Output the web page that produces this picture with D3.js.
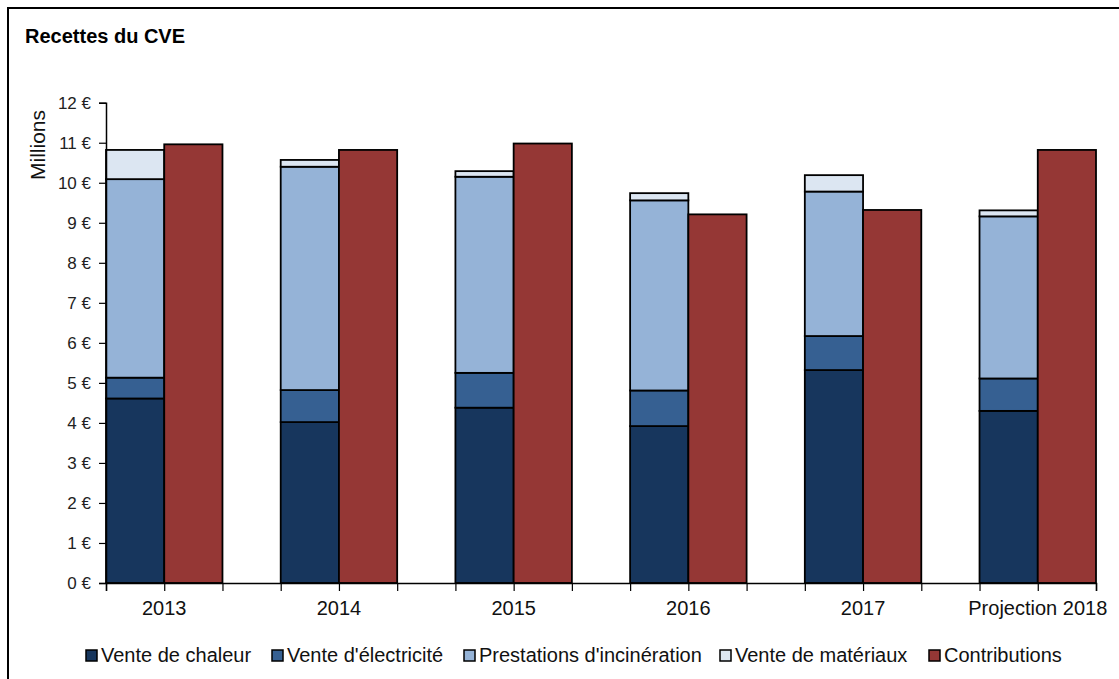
<!DOCTYPE html>
<html>
<head>
<meta charset="utf-8">
<script src="https://cdn.jsdelivr.net/npm/d3@7"></script>
<style>
  body { margin: 0; background: #fff; }
  svg { display: block; font-family: "Liberation Sans", Arial, sans-serif; }
</style>
</head>
<body>
<svg id="chart" width="1119" height="679"></svg>
<script>
// data (millions of euros)
const years = ["2013", "2014", "2015", "2016", "2017", "Projection 2018"];
const stackNames = ["Vente de chaleur", "Vente d'électricité", "Prestations d'incinération", "Vente de matériaux"];
const chaleur = [4.61, 4.02, 4.38, 3.92, 5.32, 4.30];
const electricite = [0.52, 0.80, 0.87, 0.89, 0.85, 0.81];
const prestations = [4.96, 5.58, 4.90, 4.75, 3.61, 4.05];
const materiaux = [0.73, 0.17, 0.14, 0.18, 0.41, 0.15];
const contributions = [10.96, 10.82, 10.98, 9.21, 9.32, 10.82];
const yTicks = [0, 1, 2, 3, 4, 5, 6, 7, 8, 9, 10, 11, 12];

const stackColors = ["#17365d", "#366092", "#95b3d7", "#dce6f2"];
const contribColor = "#953735";

const svg = d3.select("#chart");

// frame
svg.append("rect")
  .attr("x", 8).attr("y", 8)
  .attr("width", 1200).attr("height", 800)
  .style("fill", "none")
  .style("stroke", "#000")
  .style("stroke-width", 2);

svg.append("text")
  .attr("x", 25).attr("y", 43)
  .style("font-size", "20px")
  .style("font-weight", "bold")
  .text("Recettes du CVE");

// 17 slots: stacked, contributions, gap ... for each year
const nSlots = years.length * 3 - 1;
const x = d3.scaleLinear().domain([0, nSlots]).range([106, 1096]);
const y = d3.scaleLinear().domain([0, 12]).range([583, 102.7]);

const rows = years.map((yr, i) => ({
  year: yr,
  [stackNames[0]]: chaleur[i],
  [stackNames[1]]: electricite[i],
  [stackNames[2]]: prestations[i],
  [stackNames[3]]: materiaux[i],
  contrib: contributions[i]
}));

const series = d3.stack().keys(stackNames)(rows);

const plot = svg.append("g");

series.forEach((s, k) => {
  plot.selectAll(null)
    .data(s)
    .enter()
    .append("rect")
    .attr("x", (d, i) => x(i * 3))
    .attr("width", x(1) - x(0))
    .attr("y", d => y(d[1]))
    .attr("height", d => y(d[0]) - y(d[1]))
    .style("fill", stackColors[k])
    .style("stroke", "#000")
    .style("stroke-width", 1.8);
});

plot.selectAll(null)
  .data(rows)
  .enter()
  .append("rect")
  .attr("x", (d, i) => x(i * 3 + 1))
  .attr("width", x(1) - x(0))
  .attr("y", d => y(d.contrib))
  .attr("height", d => y(0) - y(d.contrib))
  .style("fill", contribColor)
  .style("stroke", "#000")
  .style("stroke-width", 1.8);

// y axis
const yAxis = svg.append("g")
  .attr("transform", `translate(${x(0)},0)`)
  .call(d3.axisLeft(y).tickValues(yTicks).tickSize(7).tickPadding(8).tickFormat(d => `${d} €`));
yAxis.select(".domain").attr("stroke", "#000").attr("stroke-width", 1.5);
yAxis.selectAll(".tick line").attr("stroke", "#000").attr("stroke-width", 1.2);
yAxis.selectAll(".tick text")
  .style("font-size", "17px")
  .style("font-family", "Liberation Sans, Arial, sans-serif")
  .attr("fill", "#222");

svg.append("text")
  .attr("transform", "translate(45,145) rotate(-90)")
  .attr("text-anchor", "middle")
  .style("font-size", "21px")
  .attr("fill", "#111")
  .text("Millions");

// x axis: ticks at every slot boundary
const xAxis = svg.append("g")
  .attr("transform", `translate(0,${y(0)})`)
  .call(d3.axisBottom(x).tickValues(d3.range(nSlots + 1)).tickSize(8).tickFormat(""));
xAxis.select(".domain").attr("stroke", "#000").attr("stroke-width", 1.5);
xAxis.selectAll(".tick line").attr("stroke", "#000").attr("stroke-width", 1.2);

svg.append("g")
  .selectAll("text")
  .data(years)
  .enter()
  .append("text")
  .attr("x", (d, i) => x(i * 3 + 1))
  .attr("y", 615)
  .attr("text-anchor", "middle")
  .style("font-size", "20px")
  .attr("fill", "#111")
  .text(d => d);

// legend
const legendNames = stackNames.concat(["Contributions"]);
const legendColors = stackColors.concat([contribColor]);
const legendX = [86, 272, 464, 720, 929];

const legend = svg.append("g");
legendNames.forEach((name, i) => {
  legend.append("rect")
    .attr("x", legendX[i]).attr("y", 650)
    .attr("width", 11).attr("height", 11)
    .style("fill", legendColors[i])
    .style("stroke", "#000")
    .style("stroke-width", 1.5);
  legend.append("text")
    .attr("x", legendX[i] + 15).attr("y", 662)
    .style("font-size", "20px")
    .attr("fill", "#111")
    .text(name);
});
</script>
</body>
</html>
